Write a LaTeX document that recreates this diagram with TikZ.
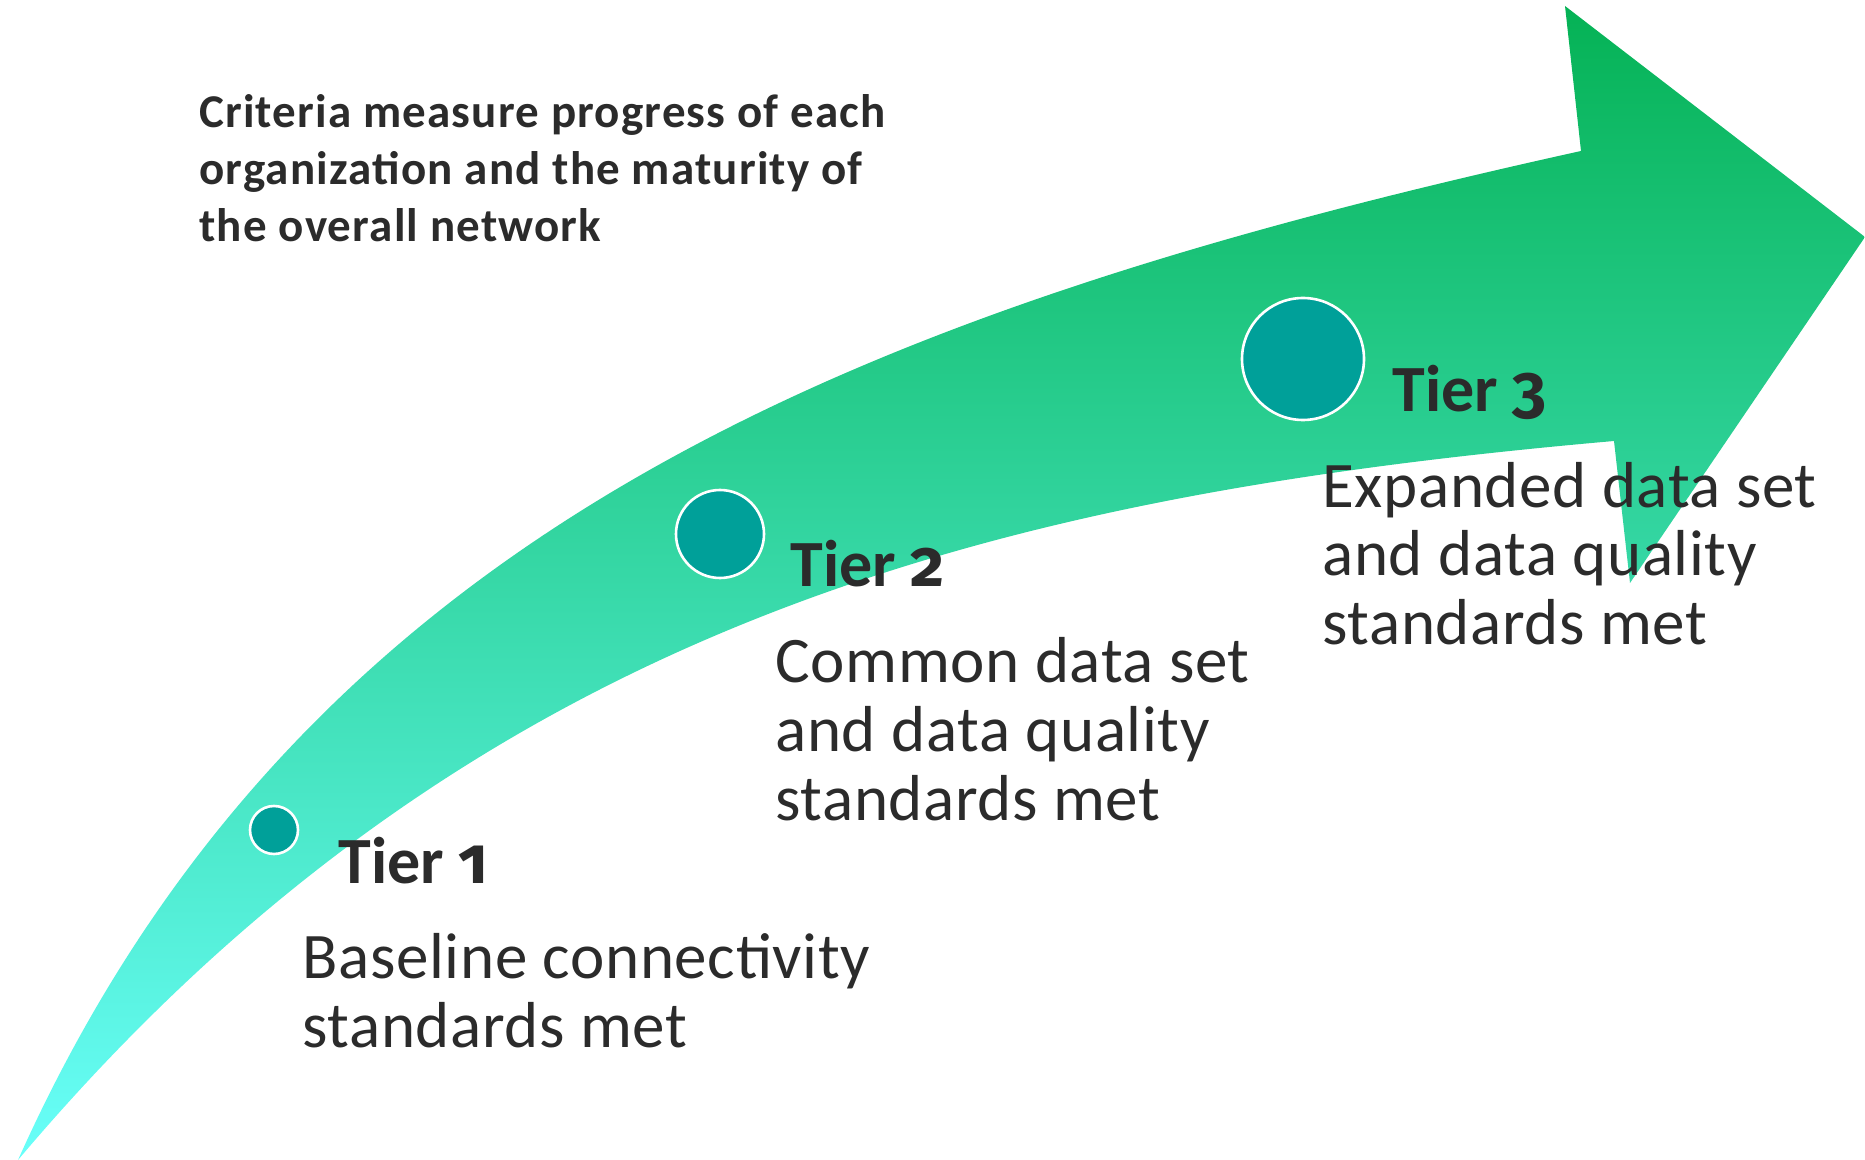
\documentclass[tikz,border=0pt]{standalone}
\usepackage{fontspec}
\setmainfont{Carlito}
\newfontfamily\tiernum{Fira Sans}[Numbers=OldStyle]
\newfontfamily\headfont{Carlito}[LetterSpace=2.5]
\newfontfamily\bodyfont{Carlito}[LetterSpace=1]
\usetikzlibrary{positioning}

\definecolor{arrowtop}{RGB}{5,178,85}
\definecolor{arrowbot}{RGB}{105,255,250}
\definecolor{dotfill}{RGB}{0,160,153}
\definecolor{inkgray}{RGB}{43,43,43}

% multi-line nodes: base anchor sits on the last line
\tikzset{
  tierdot/.style={circle, fill=dotfill, draw=white, line width=1.3pt, inner sep=0pt},
  tierlabel/.style={anchor=base west, inner sep=0pt, text=inkgray,
    font=\fontsize{33}{40}\selectfont\bfseries},
  tiertext/.style={anchor=base west, inner sep=0pt, align=left, text=inkgray,
    font=\bodyfont\fontsize{32.5}{34.5}\selectfont},
  headtext/.style={anchor=base west, inner sep=0pt, align=left, text=inkgray,
    font=\headfont\fontsize{23.5}{28.5}\selectfont\bfseries},
}

\begin{document}
\begin{tikzpicture}[x=0.5pt, y=-0.5pt]
  \useasboundingbox (0,0) rectangle (1865,1160);

  % the curved arrow
  \shade[top color=arrowtop, bottom color=arrowbot]
    (18,1160) .. controls (300,530) and (856,311) .. (1581,151)
    -- (1565,6) -- (1865,237) -- (1630,583) -- (1614,441)
    .. controls (1000,495) and (473,621) .. (18,1160) -- cycle;

  \node[headtext] (head) at (199,242)
    {Criteria measure progress of each\\organization and the maturity of\\the overall network};

  % tiers
  \node[tierdot, minimum size=24pt] (dot1) at (274,830) {};
  \node[tierdot, minimum size=44pt] (dot2) at (720,534) {};
  \node[tierdot, minimum size=61pt] (dot3) at (1303,359) {};

  \node[tierlabel] (lab1) at (338,883) {Tier {\tiernum 1}};
  \node[tierlabel] (lab2) at (790,587) {Tier {\tiernum 2}};
  \node[tierlabel] (lab3) at (1392,412) {Tier {\tiernum 3}};

  \node[tiertext] (txt1) at (302,1047) {Baseline connectivity\\standards met};
  \node[tiertext] (txt2) at (775,820) {Common data set\\and data quality\\standards met};
  \node[tiertext] (txt3) at (1322,645) {Expanded data set\\and data quality\\standards met};
\end{tikzpicture}
\end{document}
